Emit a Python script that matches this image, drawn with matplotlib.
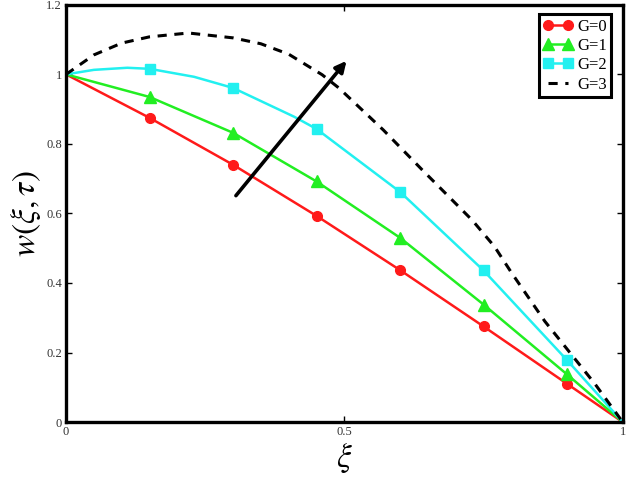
import matplotlib
matplotlib.use("Agg")
import matplotlib.pyplot as plt

# marker positions shared by the G=0,1,2 curves
xi_markers = [0.15, 0.3, 0.45, 0.6, 0.75, 0.9]

xi_g0 = [0, 0.15, 0.3, 0.45, 0.6, 0.75, 0.9, 1.0]
w_g0 = [1.0, 0.875, 0.74, 0.593, 0.437, 0.275, 0.11, 0.0]

xi_g1 = [0, 0.15, 0.3, 0.45, 0.6, 0.75, 0.9, 1.0]
w_g1 = [1.0, 0.935, 0.832, 0.692, 0.53, 0.338, 0.137, 0.0]

xi_g2 = [0, 0.05, 0.11, 0.15, 0.23, 0.3, 0.41, 0.45, 0.6, 0.75, 0.9, 1.0]
w_g2 = [1.0, 1.013, 1.019, 1.016, 0.993, 0.961, 0.878, 0.843, 0.662, 0.436, 0.178, 0.0]

xi_g3 = [0, 0.05, 0.1, 0.15, 0.22, 0.3, 0.35, 0.4, 0.46, 0.49, 0.57, 0.64,
         0.73, 0.77, 0.8, 0.86, 0.91, 0.95, 1.0]
w_g3 = [1.0, 1.056, 1.09, 1.108, 1.119, 1.105, 1.088, 1.058, 0.999, 0.961, 0.84,
        0.725, 0.58, 0.504, 0.43, 0.29, 0.19, 0.11, 0.0]

labels = ["G=0", "G=1", "G=2", "G=3"]
x_ticks = [0, 0.5, 1]
y_ticks = [0, 0.2, 0.4, 0.6, 0.8, 1, 1.2]

plt.rcParams["font.family"] = ["Liberation Serif", "DejaVu Serif"]
plt.rcParams["mathtext.fontset"] = "stix"

fig = plt.figure(figsize=(6.29, 4.84), dpi=100)
ax = fig.add_axes([0.105, 0.128, 0.885, 0.862])


def mark_idx(xs):
    return [i for i, v in enumerate(xs) if any(abs(v - m) < 1e-9 for m in xi_markers)]


ax.plot(xi_g0, w_g0, color="#ff1a1a", lw=1.8, marker="o", ms=7,
        markevery=mark_idx(xi_g0), label=labels[0])
ax.plot(xi_g1, w_g1, color="#22ee22", lw=1.8, marker="^", ms=8,
        markevery=mark_idx(xi_g1), label=labels[1])
ax.plot(xi_g2, w_g2, color="#22f0f0", lw=1.8, marker="s", ms=7,
        markevery=mark_idx(xi_g2), label=labels[2])
ax.plot(xi_g3, w_g3, color="black", lw=2.2, linestyle=(0, (3, 2.5)), label=labels[3])

ax.annotate("", xy=(0.507, 1.045), xytext=(0.302, 0.645),
            arrowprops=dict(arrowstyle="-|>", color="black", lw=2.6,
                            mutation_scale=16))

ax.set_xlim(0, 1)
ax.set_ylim(0, 1.2)
ax.set_xticks(x_ticks)
ax.set_xticklabels(["0", "0.5", "1"])
ax.set_yticks(y_ticks)
ax.set_yticklabels(["0", "0.2", "0.4", "0.6", "0.8", "1", "1.2"])
ax.tick_params(direction="in", length=4, width=1, labelsize=9,
               labelcolor="#333333", top=True, right=True, pad=3)
for s in ax.spines.values():
    s.set_linewidth(2.4)

ax.set_xlabel(r"$\xi$", fontsize=24, labelpad=2)
ax.set_ylabel(r"$w(\xi,\tau)$", fontsize=24, labelpad=2)

leg = ax.legend(loc="upper right", fontsize=12, fancybox=False, framealpha=1,
                edgecolor="black", numpoints=2, handlelength=1.8, borderpad=0.25,
                labelspacing=0.2, handletextpad=0.25, borderaxespad=0.2,
                bbox_to_anchor=(0.985, 0.985))
leg.get_frame().set_linewidth(2.2)

fig.savefig("out.png", dpi=100)
